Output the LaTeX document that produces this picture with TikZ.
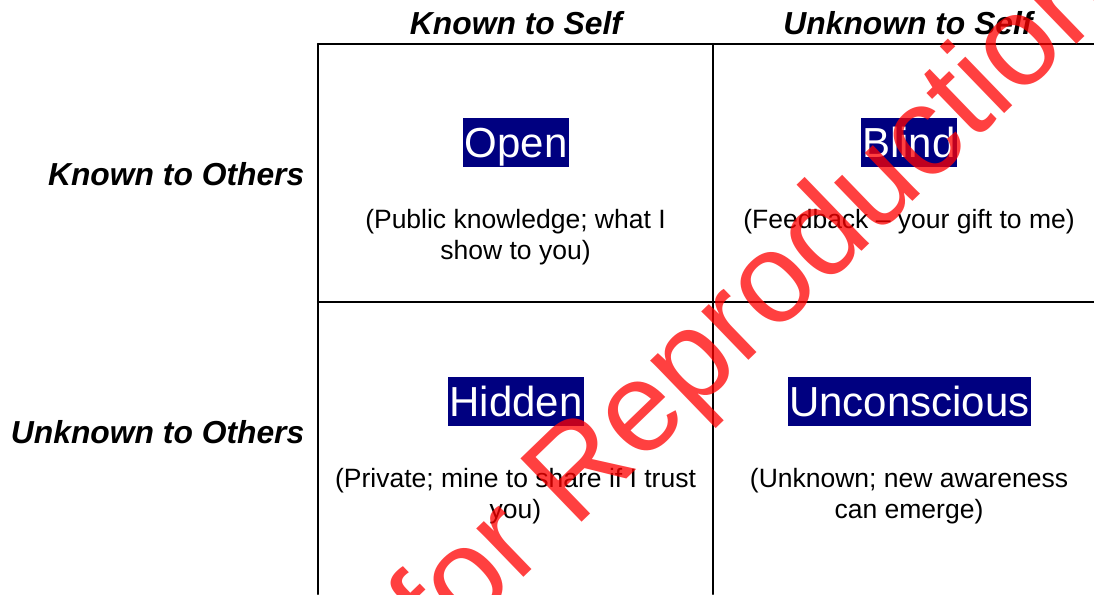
\documentclass[tikz,border=0pt]{standalone}
\usepackage{fontspec}
\setmainfont{Liberation Sans}
\usepackage{pgf,tikz}
\usepackage{tkz-euclide}
\usepackage{xcolor}
\definecolor{panenavy}{RGB}{0,0,128}

\begin{document}
\begin{tikzpicture}[
    heading/.style={font=\fontsize{9.05}{11}\selectfont\bfseries\itshape, inner sep=0pt},
    pane/.style={fill=panenavy, text=white, font=\fontsize{11.95}{14}\selectfont,
        inner xsep=0.4pt, inner ysep=0pt, text height=0.39cm, text depth=0.10cm},
    remark/.style={font=\fontsize{7.54}{8.82}\selectfont, align=center, inner sep=0pt},
    stamp/.style={font=\fontsize{36.4}{40}\selectfont, text=red, text opacity=0.75, inner sep=0pt}]
    \useasboundingbox (0,0) rectangle (10.94,5.94);
    \tkzDefPoint(3.18,5.50){g_1}
    \tkzDefPoint(7.13,5.50){g_2}
    \tkzDefPoint(10.94,5.50){g_3}
    \tkzDefPoint(3.18,2.92){g_4}
    \tkzDefPoint(10.94,2.92){g_6}
    \tkzDefPoint(3.18,0){g_7}
    \tkzDefPoint(7.13,0){g_8}
    \tkzDrawSegments[line width=0.6pt, color=black](g_1,g_3 g_4,g_6 g_1,g_7 g_2,g_8)
    \node[heading, anchor=base] (selfK) at (5.16,5.59) {Known to Self};
    \node[heading, anchor=base] (selfU) at (9.08,5.59) {Unknown to Self};
    \node[heading, anchor=base east] (othersK) at (3.05,4.09) {Known to Others};
    \node[heading, anchor=base east] (othersU) at (3.05,1.51) {Unknown to Others};
    \node[pane, anchor=base] (open) at (5.16,4.37) {Open};
    \node[pane, anchor=base] (blind) at (9.09,4.37) {Blind};
    \node[pane, anchor=base] (hidden) at (5.16,1.78) {Hidden};
    \node[pane, anchor=base] (unconscious) at (9.095,1.78) {Unconscious};
    \node[remark, anchor=base] (openText) at (5.155,3.35) {(Public knowledge; what I\\show to you)};
    \node[remark, anchor=base] (blindText) at (9.09,3.66) {(Feedback – your gift to me)};
    \node[remark, anchor=base] (hiddenText) at (5.155,0.76) {(Private; mine to share if I trust\\you)};
    \node[remark, anchor=base] (unconsciousText) at (9.09,0.76) {(Unknown; new awareness\\can emerge)};
    \begin{scope}
        \clip (0,0) rectangle (10.94,5.94);
        \node[stamp, rotate=44, anchor=base east] (stamp) at (11.22,5.94) {Not for Reproduction};
    \end{scope}
\end{tikzpicture}
\end{document}
